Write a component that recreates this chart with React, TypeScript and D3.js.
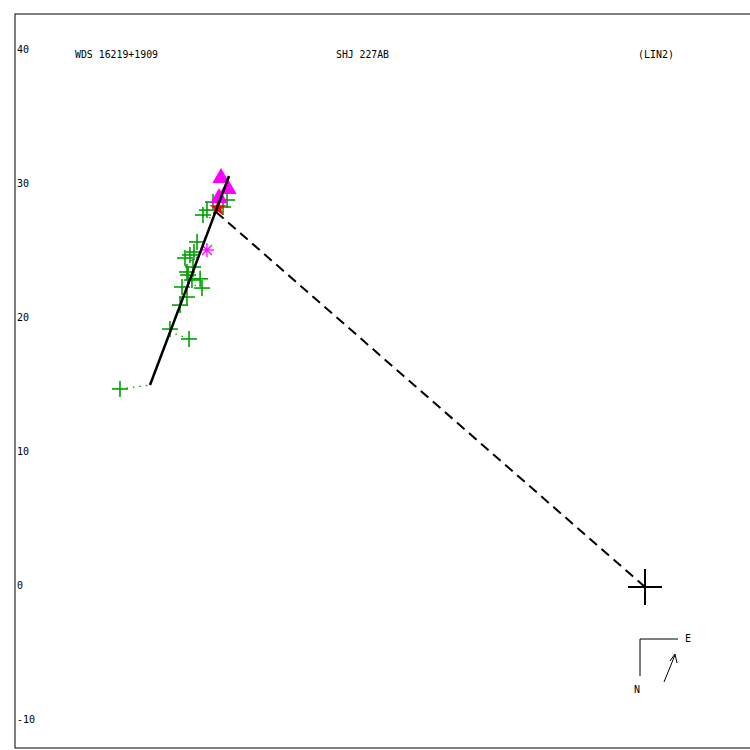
import React from "react";
import * as d3 from "d3";

const yTicks = [40, 30, 20, 10, 0, -10];
const titleLeft = "WDS 16219+1909";
const titleMid = "SHJ 227AB";
const titleRight = "(LIN2)";

// green "+" observations (x, y)
const obsX = [-39.18, -34.03, -35.45, -34.70, -34.10, -34.55, -33.06, -34.18, -33.81, -33.43, -33.96, -33.66, -34.33, -34.18, -33.73, -32.24, -31.19, -32.69, -32.99, -31.49, -33.2];
const obsY = [14.78, 18.51, 19.25, 21.04, 23.28, 22.39, 22.31, 21.64, 22.91, 25.75, 24.78, 25.0, 24.55, 23.51, 23.88, 28.73, 28.88, 28.13, 27.76, 28.36, 23.0];

// magenta triangles
const triX = [-31.64, -31.12, -31.79];
const triY = [30.52, 29.70, 29.03];

// red star
const starX = [-31.87];
const starY = [28.28];

// magenta asterisk
const astX = [-32.69];
const astY = [25.15];

// linear fit line endpoints
const fitX = [-36.94, -31.04];
const fitY = [15.07, 30.67];

// dashed line endpoint (from origin)
const nodeX = -32.01;
const nodeY = 27.99;

const x = d3.scaleLinear().domain([0, -40]).range([645, 109]);
const y = d3.scaleLinear().domain([0, 40]).range([587, 51]);

function nearestOnFit(px: number, py: number): [number, number] {
  const ax = x(fitX[0]), ay = y(fitY[0]), bx = x(fitX[1]), by = y(fitY[1]);
  const dx = bx - ax, dy = by - ay;
  let t = ((px - ax) * dx + (py - ay) * dy) / (dx * dx + dy * dy);
  t = Math.max(0, Math.min(1, t));
  return [ax + t * dx, ay + t * dy];
}

const font = "'DejaVu Sans Mono', monospace";
const fs = 10;
const green = "#00a000";
const magenta = "#ff00ff";

export default function App() {
  const line = d3.line<[number, number]>();
  const fitPts: [number, number][] = fitX.map((v, i) => [x(v), y(fitY[i])]);
  const star = d3.symbol().type(d3.symbolStar).size(90)();
  const tri = d3.symbol().type(d3.symbolTriangle).size(130)();
  return (
    <svg width={750} height={750} style={{ position: "fixed", left: 0, top: 0, background: "#fff" }}>
      <rect x={15} y={14} width={745} height={734} fill="none" stroke="#000" strokeWidth={1} />
      {yTicks.map((t) => (
        <text key={t} x={17} y={y(t)} dy="0.2em" fontFamily={font} fontSize={fs} fill="#000">
          {t}
        </text>
      ))}
      <text x={75} y={58} fontFamily={font} fontSize={fs} textLength={83} lengthAdjust="spacingAndGlyphs">{titleLeft}</text>
      <text x={336} y={58} fontFamily={font} fontSize={fs} textLength={53} lengthAdjust="spacingAndGlyphs">{titleMid}</text>
      <text x={638} y={58} fontFamily={font} fontSize={fs} textLength={36} lengthAdjust="spacingAndGlyphs">{titleRight}</text>

      {/* residual lines */}
      {obsX.map((v, i) => {
        const px = x(v), py = y(obsY[i]);
        const [qx, qy] = nearestOnFit(px, py);
        return <line key={"r" + i} x1={px} y1={py} x2={qx} y2={qy} stroke={green} strokeWidth={1.3} strokeDasharray="1.5,5" />;
      })}
      {astX.map((v, i) => {
        const px = x(v), py = y(astY[i]);
        const [qx, qy] = nearestOnFit(px, py);
        return <line key={"ra" + i} x1={px} y1={py} x2={qx} y2={qy} stroke={magenta} strokeWidth={1.2} strokeDasharray="1.5,4" />;
      })}

      {/* observations */}
      {obsX.map((v, i) => {
        const px = x(v), py = y(obsY[i]);
        return (
          <g key={"o" + i} stroke={green} strokeWidth={1.6}>
            <line x1={px - 8} y1={py} x2={px + 8} y2={py} />
            <line x1={px} y1={py - 8} x2={px} y2={py + 8} />
          </g>
        );
      })}
      {astX.map((v, i) => {
        const px = x(v), py = y(astY[i]);
        return (
          <g key={"a" + i} stroke={magenta} strokeWidth={1.3} transform={`translate(${px},${py})`}>
            <line x1={-7} y1={0} x2={7} y2={0} />
            <line x1={0} y1={-7} x2={0} y2={7} />
            <line x1={-5} y1={-5} x2={5} y2={5} />
            <line x1={-5} y1={5} x2={5} y2={-5} />
          </g>
        );
      })}
      {triX.map((v, i) => (
        <path key={"t" + i} d={tri || ""} transform={`translate(${x(v)},${y(triY[i])})`} fill={magenta} />
      ))}
      {starX.map((v, i) => (
        <path key={"s" + i} d={star || ""} transform={`translate(${x(v)},${y(starY[i])})`} fill="#ff0000" />
      ))}

      {/* fit line */}
      <path d={line(fitPts) || ""} stroke="#000" strokeWidth={2.5} fill="none" />
      {/* dashed line to origin */}
      <line x1={x(nodeX)} y1={y(nodeY)} x2={x(0)} y2={y(0)} stroke="#000" strokeWidth={2} strokeDasharray="10,6" />

      {/* origin cross */}
      <g stroke="#000" strokeWidth={2}>
        <line x1={x(0) - 17} y1={y(0)} x2={x(0) + 17} y2={y(0)} />
        <line x1={x(0)} y1={y(0) - 18} x2={x(0)} y2={y(0) + 18} />
      </g>

      {/* compass */}
      <polyline points="640,676 640,639 678,639" fill="none" stroke="#000" strokeWidth={1} />
      <text x={685} y={642} fontFamily={font} fontSize={fs}>E</text>
      <text x={634} y={693} fontFamily={font} fontSize={fs}>N</text>
      <line x1={664} y1={682} x2={675} y2={655} stroke="#000" strokeWidth={1} />
      <polyline points="670,661 675,654 677,663" fill="none" stroke="#000" strokeWidth={1} />
    </svg>
  );
}
